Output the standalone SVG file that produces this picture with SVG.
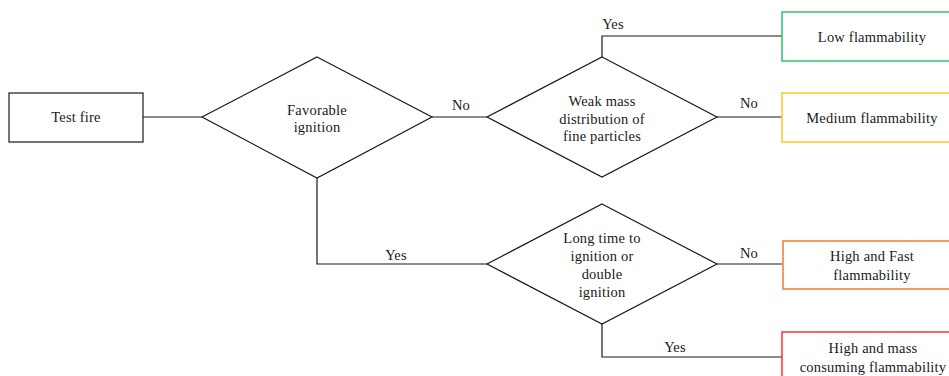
<svg xmlns="http://www.w3.org/2000/svg" width="949" height="376" viewBox="0 0 949 376">
<style>
text{font-family:"Liberation Serif","Times New Roman",serif;font-size:14.5px;letter-spacing:0.2px;fill:#1a1a1a;text-anchor:middle}
.shape{fill:#fff;stroke:#1a1a1a;stroke-width:1.2}
.out{fill:#fff;stroke-width:1.5}
.conn{fill:none;stroke:#1a1a1a;stroke-width:1.2}
</style>
<rect width="949" height="376" fill="#fff"/>
<g id="connectors">
<polyline class="conn" points="143,117 202,117"/>
<polyline class="conn" points="432,117 487,117"/>
<polyline class="conn" points="602,57 602,36 782,36"/>
<polyline class="conn" points="717,117 782,117"/>
<polyline class="conn" points="317,178 317,264 487,264"/>
<polyline class="conn" points="717,264 782,264"/>
<polyline class="conn" points="602,324 602,357 782,357"/>
<text x="461" y="110">No</text>
<text x="613" y="29">Yes</text>
<text x="749" y="108">No</text>
<text x="396" y="260">Yes</text>
<text x="749" y="258">No</text>
<text x="675" y="352">Yes</text>
</g>
<g id="test-fire">
<rect class="shape" x="9" y="93" width="134" height="49"/>
<text x="76" y="122">Test fire</text>
</g>
<g id="favorable-ignition">
<polygon class="shape" points="317,57 432,117 317,178 202,117"/>
<text x="317" y="115">Favorable</text>
<text x="317" y="132">ignition</text>
</g>
<g id="weak-mass">
<polygon class="shape" points="602,57 717,117 602,177 487,117"/>
<text x="602" y="106">Weak mass</text>
<text x="602" y="123.5">distribution of</text>
<text x="602" y="141">fine particles</text>
</g>
<g id="long-time">
<polygon class="shape" points="602,204 717,264 602,324 487,264"/>
<text x="602" y="243">Long time to</text>
<text x="602" y="261">ignition or</text>
<text x="602" y="279">double</text>
<text x="602" y="297">ignition</text>
</g>
<g id="low">
<rect class="out" x="782" y="12" width="180" height="49" stroke="#2ec46c"/>
<text x="872" y="42">Low flammability</text>
</g>
<g id="medium">
<rect class="out" x="782" y="93" width="180" height="49" stroke="#ffc820"/>
<text x="872" y="123">Medium flammability</text>
</g>
<g id="high-fast">
<rect class="out" x="783" y="241" width="180" height="48" stroke="#ed7d31"/>
<text x="872" y="261">High and Fast</text>
<text x="872" y="280">flammability</text>
</g>
<g id="high-mass">
<rect class="out" x="782" y="332" width="180" height="60" stroke="#ff3030"/>
<text x="873" y="353">High and mass</text>
<text x="873" y="372">consuming flammability</text>
</g>
</svg>
